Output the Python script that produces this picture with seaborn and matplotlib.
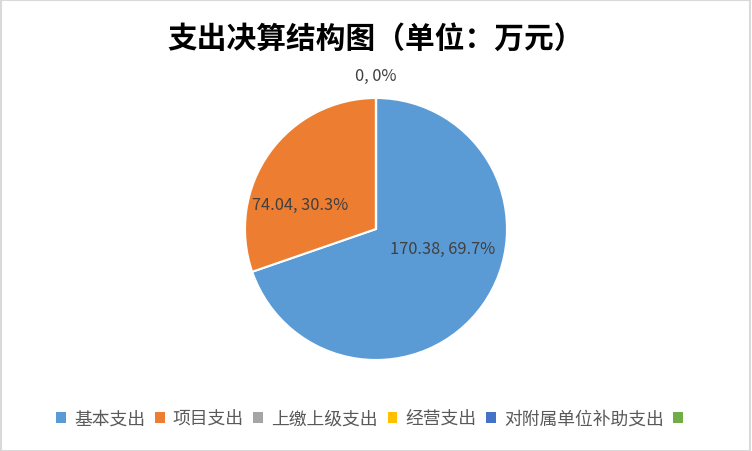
import matplotlib
matplotlib.use('Agg')
import matplotlib.pyplot as plt
import seaborn as sns
from matplotlib.patches import Rectangle, Patch

categories = ['基本支出', '项目支出', '上缴上级支出', '经营支出', '对附属单位补助支出', '']
values = [170.38, 74.04, 0, 0, 0, 0]
colors = ['#5B9BD5', '#ED7D31', '#A5A5A5', '#FFC000', '#4472C4', '#70AD47']

sns.set_theme(style='white')
plt.rcParams['font.family'] = ['Noto Sans CJK SC', 'DejaVu Sans']

fig = plt.figure(figsize=(7.52, 4.52), dpi=100)
fig.patches.append(Rectangle((0.001, 0.001), 0.997, 0.997, transform=fig.transFigure,
                             fill=False, edgecolor='#D9D9D9', linewidth=1.5))

# pie area: center (376, 230) px, radius 131 px
ax = fig.add_axes([(376 - 131) / 752, (222 - 131) / 452, 262 / 752, 262 / 452])
wedges, _ = ax.pie(values, colors=colors, startangle=90, counterclock=False, radius=1,
                   wedgeprops=dict(edgecolor='white', linewidth=1.5))
ax.set_xlim(-1, 1)
ax.set_ylim(-1, 1)
ax.set_aspect('equal')
ax.axis('off')

total = sum(values)
label_pos = [(0.51, -0.15), (-0.58, 0.19), (0, 1.175)]
for i, (x, y) in enumerate(label_pos):
    v = values[i]
    pct = v / total * 100
    txt = f'{v:g}, {pct:.1f}%' if v else '0, 0%'
    ax.text(x, y, txt, ha='center', va='center', fontsize=11.8, color='#404040')

fig.text(0.5, 0.915, '支出决算结构图（单位：万元）', ha='center', va='center',
         fontsize=21.4, fontweight='bold', color='#000000')

# legend squares without the white wedge edge
handles = [Patch(facecolor=c, edgecolor='none') for c in colors]
leg = fig.legend(handles, categories, loc='center', bbox_to_anchor=(0.497, 0.072), ncol=6,
                 frameon=False, fontsize=12.8, handlelength=0.55, handleheight=0.55,
                 handletextpad=0.45, columnspacing=0.55, labelcolor='#595959')

fig.savefig('out.png', dpi=100)
